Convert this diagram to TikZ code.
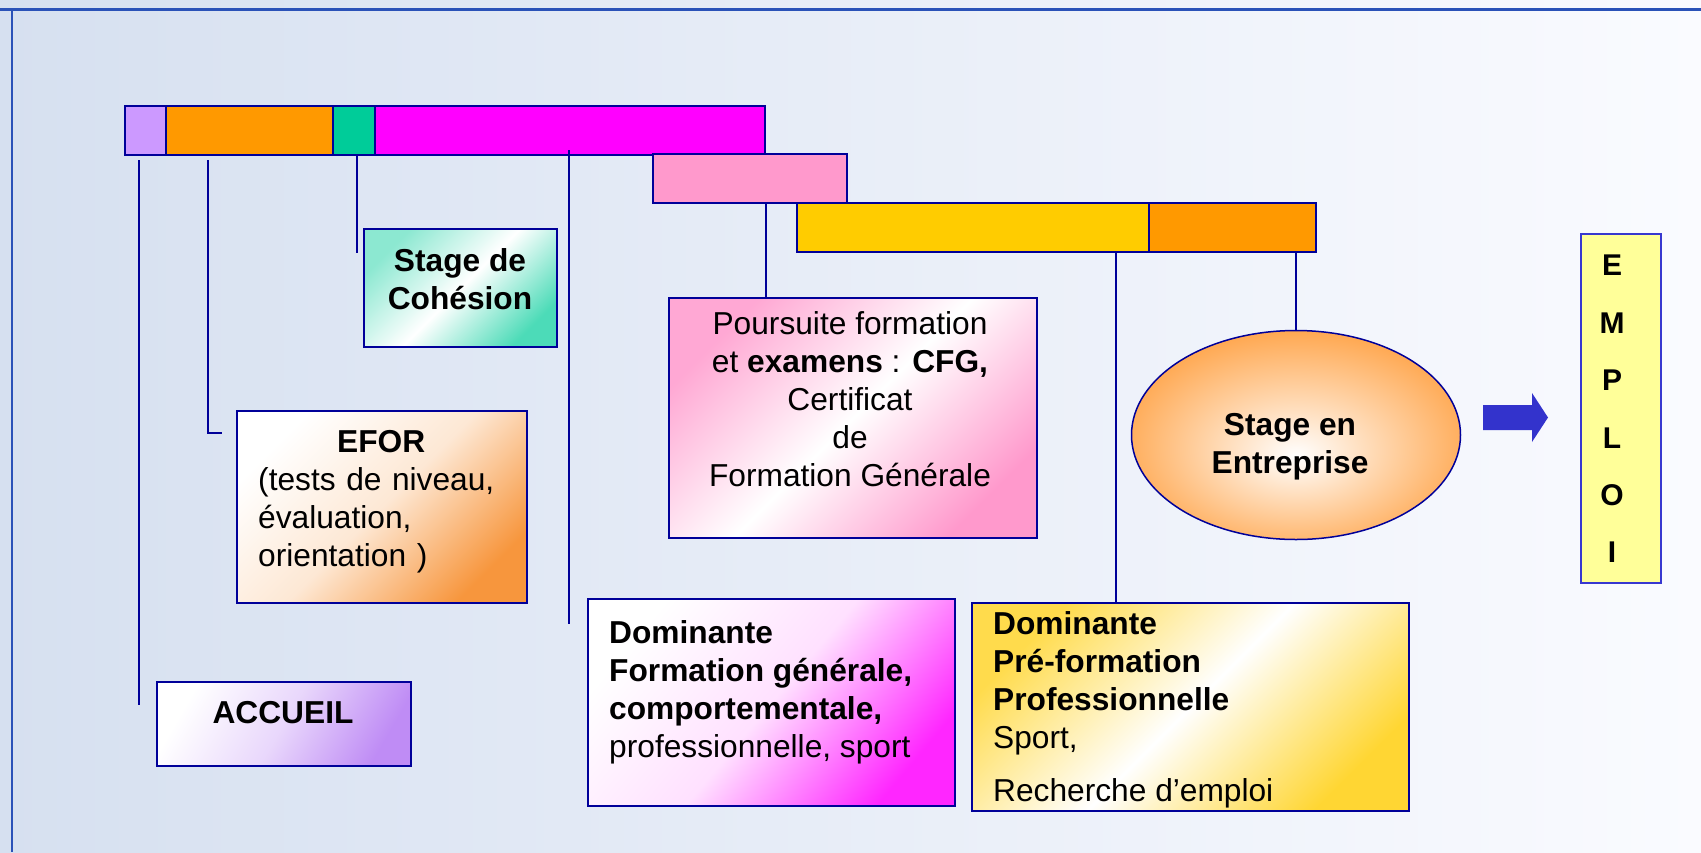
\documentclass[tikz,border=0pt]{standalone}
\usepackage{fontspec}
\setmainfont{Liberation Sans}
\usetikzlibrary{shapes.geometric}

\definecolor{bordbleu}{HTML}{000099}
\definecolor{cadrebleu}{HTML}{2A52B8}
\definecolor{fondg}{HTML}{D6E0F0}
\definecolor{fondd}{HTML}{FAFBFF}
\definecolor{accviolet}{HTML}{CC99FF}
\definecolor{accbox}{HTML}{BF8CF5}
\definecolor{eforor}{HTML}{FF9900}
\definecolor{eforbox}{HTML}{F7963D}
\definecolor{cohvert}{HTML}{00CC99}
\definecolor{dommag}{HTML}{FF00FF}
\definecolor{cfgrose}{HTML}{FF99CC}
\definecolor{domjaune}{HTML}{FFCC00}
\definecolor{emploijaune}{HTML}{FFFF99}
\definecolor{emploibord}{HTML}{3838D0}
\definecolor{flechebleu}{HTML}{3333CC}
\definecolor{entor}{HTML}{FF9933}

\pgfdeclareradialshading{entshade}{\pgfpoint{0bp}{-5bp}}{color(0bp)=(white); color(32bp)=(entor); color(50bp)=(entor)}

\begin{document}
\begin{tikzpicture}[x=1pt, y=-1pt, font=\fontsize{31.7}{38}\selectfont,
    barre/.style={draw=bordbleu, line width=2pt, inner sep=0pt, anchor=north west, minimum height=49},
    boite/.style={draw=bordbleu, line width=2pt, inner sep=0pt, anchor=north west},
    lien/.style={draw=bordbleu, line width=1.5pt},
    texte/.style={inner sep=0pt},
    gras/.style={font=\fontsize{31.7}{38}\selectfont\bfseries}]

    % fond
    \useasboundingbox (0,0) rectangle (1701,852);
    \shade[left color=fondg, right color=fondd] (0,0) rectangle (1701,852);
    \draw[cadrebleu, line width=3pt] (0,9) -- (1701,9);
    \draw[cadrebleu, line width=2pt] (12,9) -- (12,852);

    % barres du parcours
    \node[barre, fill=accviolet, minimum width=41] (b-acc) at (124,105) {};
    \node[barre, fill=eforor, minimum width=167] (b-efor) at (165,105) {};
    \node[barre, fill=cohvert, minimum width=42] (b-coh) at (332,105) {};
    \node[barre, fill=dommag, minimum width=390] (b-dom1) at (374,105) {};
    \node[barre, fill=cfgrose, minimum width=194] (b-cfg) at (652,153) {};
    \node[barre, fill=domjaune, minimum width=352] (b-dom2) at (796,202) {};
    \node[barre, fill=eforor, minimum width=167] (b-ent) at (1148,202) {};

    % boites
    \node[boite, minimum width=193, minimum height=118, top color=cohvert!45!white, bottom color=cohvert!70!white, middle color=white, shading angle=45] (coh) at (363,228) {};
    \node[boite, minimum width=290, minimum height=192, top color=white, bottom color=eforbox, middle color=eforbox!22!white, shading angle=45] (efor) at (236,410) {};
    \node[boite, minimum width=254, minimum height=84, left color=white, right color=accbox, middle color=accbox!35!white, shading angle=60] (acc) at (156,681) {};
    \node[boite, minimum width=368, minimum height=240, top color=cfgrose!85!white, bottom color=cfgrose, middle color=white, shading angle=45] (cfg) at (668,297) {};
    \node[boite, minimum width=367, minimum height=207, top color=white, bottom color=dommag!85!white, middle color=dommag!12!white, shading angle=50] (dom1) at (587,598) {};
    \node[boite, minimum width=437, minimum height=208, top color=domjaune!70!white, bottom color=domjaune!80!white, middle color=white, shading angle=45] (dom2) at (971,602) {};
    \node[boite, draw=emploibord, fill=emploijaune, minimum width=80, minimum height=349] (emploi) at (1580,233) {};
    \node[ellipse, draw=bordbleu, line width=1.5pt, shading=entshade, minimum width=329, minimum height=209, inner sep=0pt] (ent) at (1296,435) {};

    % textes
    \node[texte, gras, align=center] (coh-t) at (460,279) {Stage de\\Cohésion};
    \node[texte, anchor=west, text width=246pt, align=left] (efor-t) at (258,502) {\makebox[\linewidth]{\textbf{EFOR}}\\(tests de niveau,\\évaluation,\\orientation )};
    \node[texte, gras] (acc-t) at (283,713) {ACCUEIL};
    \node[texte, align=center] (cfg-t) at (850,399) {Poursuite formation\\et \textbf{examens} : \textbf{CFG,}\\Certificat\\de\\Formation Générale};
    \node[texte, anchor=west, align=left] (dom1-t) at (609,692) {\textbf{Dominante}\\\textbf{Formation générale,}\\\textbf{comportementale,}\\professionnelle, sport};
    \node[texte, anchor=west, align=left] (dom2-t) at (993,710) {\textbf{Dominante}\\\textbf{Pré-formation}\\\textbf{Professionnelle}\\Sport,\\[15pt]Recherche d’emploi};
    \node[texte, gras, align=center] (ent-t) at (1290,447) {Stage en\\Entreprise};
    \node[texte, font=\fontsize{30}{57.4}\selectfont\bfseries, align=center] (emploi-t) at (1612,409) {E\\M\\P\\L\\O\\I};

    % fleche vers l'emploi
    \fill[flechebleu] (1483,405) -- (1532,405) -- (1532,393) -- (1548,417.5) -- (1532,442) -- (1532,430) -- (1483,430) -- cycle;

    % liaisons
    \coordinate (acc-haut) at (139,160);
    \coordinate (acc-bas) at (139,705);
    \coordinate (efor-haut) at (208,160);
    \coordinate (efor-bout) at (222,433);
    \coordinate (coh-bas) at (357,253);
    \coordinate (dom1-haut) at (569,150);
    \coordinate (dom1-bas) at (569,624);
    \coordinate (dom2-x) at (1116,0);
    \draw[lien] (acc-haut) -- (acc-bas);
    \draw[lien] (efor-haut) |- (efor-bout);
    \draw[lien] (b-coh.south -| coh-bas) -- (coh-bas);
    \draw[lien] (dom1-haut) -- (dom1-bas);
    \draw[lien] (b-cfg.south -| b-dom1.east) -- (cfg.north -| b-dom1.east);
    \draw[lien] (b-dom2.south -| dom2-x) -- (dom2.north -| dom2-x);
    \draw[lien] (b-ent.south -| ent.north) -- (ent.north);

\end{tikzpicture}
\end{document}
